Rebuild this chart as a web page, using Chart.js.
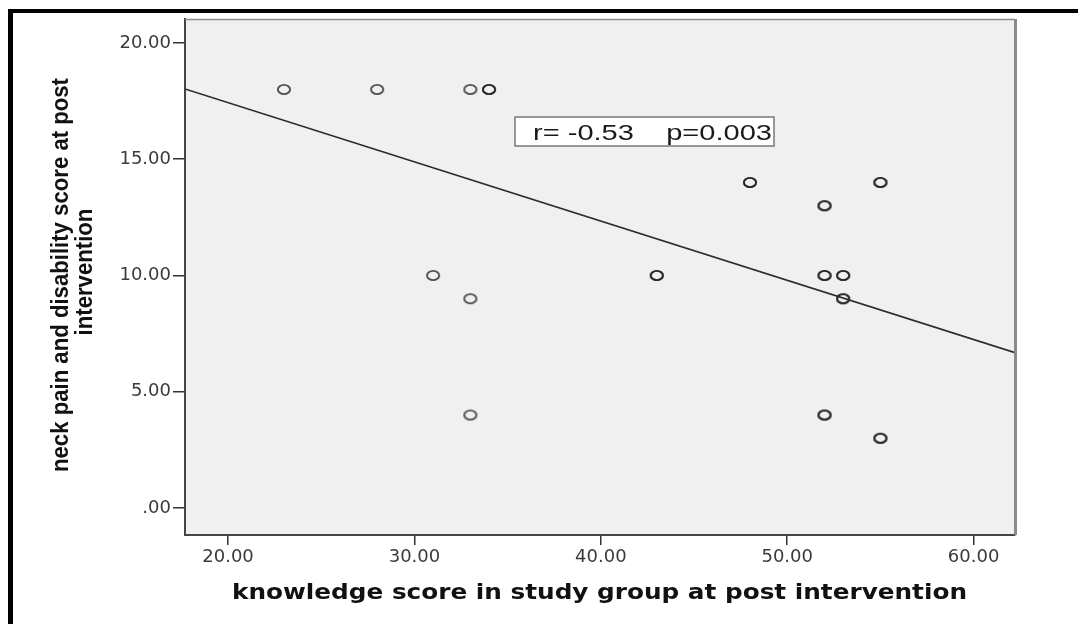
<!DOCTYPE html>
<html>
<head>
<meta charset="utf-8">
<script src="https://cdn.jsdelivr.net/npm/chart.js@4.4.0/dist/chart.umd.min.js"></script>
<style>
  html, body { margin: 0; padding: 0; background: #fff; }
  canvas { display: block; }
</style>
</head>
<body>
<canvas id="scatterChart" width="1078" height="624"></canvas>
<script>
// knowledge score (x) vs neck pain / disability score (y); repeated pairs = overlapping cases
const knowledgeScores = [23, 28, 33, 34, 34, 31, 33, 33, 43, 43, 48, 48, 52, 52, 52, 52, 53, 53, 53, 53, 55, 55, 55, 55, 52, 52];
const neckPainScores  = [18, 18, 18, 18, 18, 10,  9,  4, 10, 10, 14, 14, 13, 13, 10, 10, 10, 10,  9,  9, 14, 14,  3,  3,  4,  4];
const xTicks = [20, 30, 40, 50, 60];
const yTicks = [0, 5, 10, 15, 20];
const xRange = [17.69, 62.22];
const yRange = [-1.16, 21.03];
// fit line
const fitIntercept = 22.53;
const fitSlope = -0.2547;
const statsLabel = "r= -0.53    p=0.003";
const xTitle = "knowledge score in study group at post intervention";
const yTitle = ["neck pain and disability score at post", "intervention"];

function fmt(v) {
  return v === 0 ? ".00" : Number(v).toFixed(2);
}

// SPSS style open marker, a bit wider than tall
function ringImage() {
  const c = document.createElement("canvas");
  c.width = 18;
  c.height = 15;
  const g = c.getContext("2d");
  g.strokeStyle = "rgba(25,25,25,0.75)";
  g.lineWidth = 1.9;
  g.beginPath();
  g.ellipse(9, 7.5, 6.1, 4.6, 0, 0, Math.PI * 2);
  g.stroke();
  return c;
}

function fitText(ctx, text, x, y, width) {
  const w = ctx.measureText(text).width;
  ctx.save();
  ctx.translate(x, y);
  ctx.scale(width / w, 1);
  ctx.fillText(text, 0, 0);
  ctx.restore();
}

const frame = {
  id: "frame",
  beforeDraw(chart) {
    const { ctx, chartArea: a } = chart;
    ctx.save();
    ctx.fillStyle = "#fff";
    ctx.fillRect(0, 0, chart.width, chart.height);
    ctx.fillStyle = "#f0f0f0";
    ctx.fillRect(a.left, a.top, a.right - a.left, a.bottom - a.top);
    ctx.restore();
  },
  afterDraw(chart) {
    const { ctx, chartArea: a } = chart;
    ctx.save();

    // plot frame top and right
    ctx.strokeStyle = "#8a8a8a";
    ctx.lineWidth = 1.5;
    ctx.beginPath();
    ctx.moveTo(a.left, a.top + 0.5);
    ctx.lineTo(a.right, a.top + 0.5);
    ctx.stroke();
    ctx.lineWidth = 3;
    ctx.beginPath();
    ctx.moveTo(a.right + 0.5, a.top);
    ctx.lineTo(a.right + 0.5, a.bottom);
    ctx.stroke();

    // outer black frame
    ctx.fillStyle = "#000";
    ctx.fillRect(8, 9, chart.width - 8, 4);
    ctx.fillRect(8, 9, 5, chart.height - 9);

    // r / p box
    ctx.fillStyle = "#fff";
    ctx.fillRect(515, 117, 259, 29);
    ctx.strokeStyle = "#777";
    ctx.lineWidth = 1.5;
    ctx.strokeRect(515, 117, 259, 29);
    ctx.fillStyle = "#1a1a1a";
    ctx.font = "22px 'Liberation Sans', Arial, sans-serif";
    ctx.textAlign = "left";
    ctx.textBaseline = "alphabetic";
    fitText(ctx, statsLabel, 533, 140, 239);

    // x title
    ctx.fillStyle = "#111";
    ctx.font = "bold 21px 'DejaVu Sans', Verdana, sans-serif";
    ctx.textAlign = "center";
    fitText(ctx, xTitle, 599.5, 599, 735);

    // y title, two lines
    ctx.font = "bold 24px 'Liberation Sans', Arial, sans-serif";
    const sx = 394 / ctx.measureText(yTitle[0]).width;
    const lines = [[68, 275], [92, 272]];
    yTitle.forEach((t, i) => {
      ctx.save();
      ctx.translate(lines[i][0], lines[i][1]);
      ctx.rotate(-Math.PI / 2);
      ctx.scale(sx, 1);
      ctx.fillText(t, 0, 0);
      ctx.restore();
    });

    ctx.restore();
  }
};

const tickFont = { family: "'DejaVu Sans', sans-serif", size: 18 };

new Chart(document.getElementById("scatterChart").getContext("2d"), {
  type: "scatter",
  data: {
    datasets: [
      {
        type: "line",
        data: xRange.map(x => ({ x: x, y: fitIntercept + fitSlope * x })),
        borderColor: "#2a2a2a",
        borderWidth: 1.6,
        pointRadius: 0,
        fill: false
      },
      {
        data: knowledgeScores.map((x, i) => ({ x: x, y: neckPainScores[i] })),
        pointStyle: ringImage(),
        pointRadius: 6
      }
    ]
  },
  options: {
    responsive: false,
    animation: false,
    events: [],
    layout: { padding: { left: 0, top: 19, right: 63, bottom: 0 } },
    plugins: { legend: { display: false }, tooltip: { enabled: false } },
    scales: {
      x: {
        type: "linear",
        min: xRange[0],
        max: xRange[1],
        afterBuildTicks: s => { s.ticks = xTicks.map(v => ({ value: v })); },
        afterFit: s => { s.height = 89; },
        grid: { drawOnChartArea: false, drawTicks: true, tickLength: 10, color: "#333", lineWidth: 1.5 },
        border: { display: true, color: "#444", width: 2 },
        ticks: { padding: 2, color: "#3a3a3a", font: tickFont, callback: fmt, maxRotation: 0, autoSkip: false }
      },
      y: {
        type: "linear",
        min: yRange[0],
        max: yRange[1],
        afterBuildTicks: s => { s.ticks = yTicks.map(v => ({ value: v })); },
        afterFit: s => { s.width = 185; },
        grid: { drawOnChartArea: false, drawTicks: true, tickLength: 12, color: "#333", lineWidth: 1.5 },
        border: { display: true, color: "#444", width: 2 },
        ticks: { padding: 2, color: "#3a3a3a", font: tickFont, callback: fmt, autoSkip: false }
      }
    }
  },
  plugins: [frame]
});
</script>
</body>
</html>
